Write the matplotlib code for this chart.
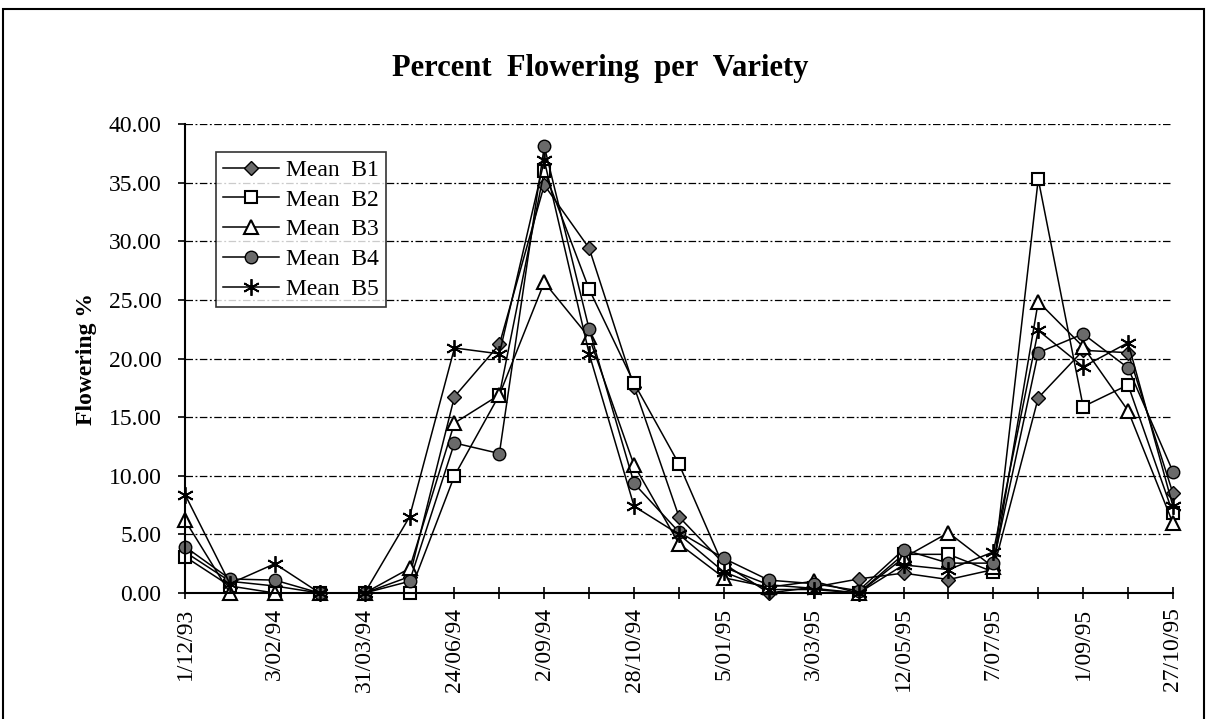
import matplotlib
matplotlib.use("Agg")
import matplotlib.pyplot as plt
from matplotlib.patches import Rectangle

DATES = ["1/12/93", "", "3/02/94", "", "31/03/94", "", "24/06/94", "", "2/09/94", "",
         "28/10/94", "", "5/01/95", "", "3/03/95", "", "12/05/95", "", "7/07/95", "",
         "1/09/95", "", "27/10/95"]

B1 = [3.5, 1.0, 0.6, 0.0, 0.0, 1.4, 16.75, 21.2, 34.8, 29.4, 17.6, 6.5,
      2.5, 0.0, 0.5, 1.2, 1.7, 1.15, 2.0, 16.65, 20.7, 20.5, 8.5]
B2 = [3.1, 0.6, 0.0, 0.0, 0.0, 0.0, 10.0, 16.9, 36.0, 25.9, 17.9, 11.0,
      2.2, 0.7, 0.4, 0.0, 3.3, 3.3, 1.8, 35.3, 15.9, 17.75, 6.8]
B3 = [6.2, 0.0, 0.0, 0.0, 0.0, 2.1, 14.5, 16.9, 26.5, 21.8, 10.9, 4.2,
      1.3, 0.5, 1.0, 0.0, 3.0, 5.15, 2.2, 24.85, 21.0, 15.55, 5.95]
B4 = [3.95, 1.2, 1.1, 0.0, 0.0, 1.0, 12.8, 11.9, 38.1, 22.5, 9.35, 5.2,
      2.95, 1.1, 0.8, 0.2, 3.7, 2.55, 2.55, 20.5, 22.1, 19.2, 10.35]
B5 = [8.4, 0.8, 2.5, 0.0, 0.0, 6.5, 20.9, 20.4, 36.9, 20.4, 7.4, 5.0,
      1.8, 0.3, 0.3, 0.0, 2.4, 2.0, 3.5, 22.4, 19.3, 21.35, 7.4]

SERIES = [("Mean  B1", B1), ("Mean  B2", B2), ("Mean  B3", B3),
          ("Mean  B4", B4), ("Mean  B5", B5)]

plt.rcParams['font.family'] = ['Liberation Serif', 'DejaVu Serif']

fig = plt.figure(figsize=(12.07, 7.19), dpi=100)
ax = fig.add_axes([0.1533, 0.1752, 0.8185, 0.6523])

styles = [
    dict(marker="D", ms=7, mfc="#6a6a6a", mec="black"),
    dict(marker="s", ms=9, mfc="white", mec="black", mew=1.5),
    dict(marker="^", ms=10, mfc="white", mec="black", mew=1.5),
    dict(marker="o", ms=9, mfc="#6a6a6a", mec="black"),
    dict(marker=(6, 2, 0), ms=12, mec="black", mew=1.3),
]

x = list(range(len(DATES)))
for (label, values), st in zip(SERIES, styles):
    ax.plot(x, values, color="black", lw=1.1, label=label, clip_on=False, **st)

ax.set_xlim(0, len(DATES) - 1)
ax.set_ylim(0, 40)
ax.set_yticks(range(0, 41, 5))
ax.set_yticklabels(["%.2f" % v for v in range(0, 41, 5)], fontsize=17)
ax.set_xticks(x)
ax.set_xticklabels(DATES, rotation=90, fontsize=17)
ax.tick_params(axis="x", direction="inout", length=9, width=1.2, pad=6)
ax.tick_params(axis="y", direction="out", length=5, width=1.2, pad=12)

for s in ("top", "right"):
    ax.spines[s].set_visible(False)
for s in ("left", "bottom"):
    ax.spines[s].set_linewidth(1.5)

ax.grid(axis="y", color="black", lw=0.9, linestyle=(0, (6, 2, 1.5, 2)))
ax.set_axisbelow(True)

ax.set_ylabel("Flowering %", fontsize=17, fontweight="bold", labelpad=8)
fig.text(0.497, 0.905, "Percent  Flowering  per  Variety", ha="center", va="center",
         fontsize=22, fontweight="bold")

leg = ax.legend(loc="upper left", bbox_to_anchor=(0.031, 0.94), fontsize=17,
                frameon=True, fancybox=False, handlelength=2.4, handletextpad=0.3,
                labelspacing=0.35, borderpad=0.3, borderaxespad=0)
leg.get_frame().set_edgecolor("black")
leg.get_frame().set_linewidth(1.2)

fig.add_artist(Rectangle((3 / 1207, -0.01), 1201 / 1207, 1 - 9 / 719 + 0.01,
                         transform=fig.transFigure, fill=False, lw=1.5, ec="black"))

fig.savefig("out.png", dpi=100)
